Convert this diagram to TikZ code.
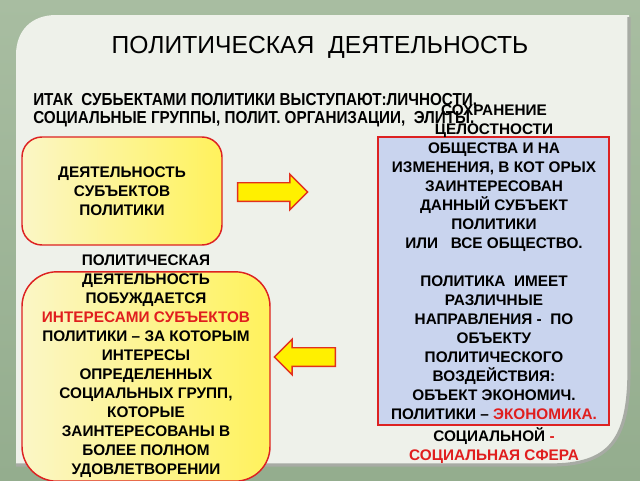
\documentclass[tikz,border=0pt]{standalone}
\usepackage{fontspec}
\setmainfont{Liberation Sans}
\newfontfamily\narrowbf{Liberation Sans Bold}[FakeStretch=0.88]
\usepackage{tikz}
\usetikzlibrary{shapes.arrows,positioning}

\definecolor{bggreen}{HTML}{A8BDA1}
\definecolor{bgdark}{HTML}{94AD8E}
\definecolor{panelfill}{HTML}{EEF1EA}
\definecolor{bevelgray}{HTML}{A7ABA4}
\definecolor{boxred}{HTML}{DD2222}
\definecolor{cream}{HTML}{FBF6C6}
\definecolor{lemon}{HTML}{FFF25C}
\definecolor{paleblue}{HTML}{C9D4EE}
\definecolor{arrowyellow}{HTML}{FFF000}
\definecolor{arrowred}{HTML}{E2301E}
\definecolor{textred}{HTML}{E01E1E}

\begin{document}
\begin{tikzpicture}[x=0.75pt,y=-0.75pt]
    \tikzstyle{yellowbox} = [rectangle, draw=boxred, line width=1.1pt, left color=cream, right color=lemon]
    \tikzstyle{bluebox} = [rectangle, draw=boxred, line width=1.1pt, fill=paleblue]
    \tikzstyle{bodytext} = [align=center, inner sep=0pt, font=\bfseries\fontsize{11.5pt}{14.25pt}\selectfont]
    \tikzstyle{blockarrow} = [single arrow, draw=arrowred, line width=1.1pt, fill=arrowyellow,
        inner xsep=0pt, inner ysep=6.4pt, single arrow head extend=6.4pt, text height=0pt, text depth=0pt]

    \useasboundingbox (0,0) rectangle (640,480);

    % Background and panel
    \shade[top color=bggreen, bottom color=bgdark] (0,0) rectangle (640,480);
    \fill[panelfill] (16,465) -- (16,55) .. controls (16,30) and (32,15) .. (56,15) -- (629,15)
        -- (629,370) .. controls (629,440) and (610,465) .. (550,465) -- cycle;
    \draw[bevelgray, line width=2.4pt] (629,17) -- (629,370) .. controls (629,440) and (610,465) .. (550,465) -- (16,465);

    % Headings
    \node[font=\fontsize{18.5pt}{22pt}\selectfont] (title) at (320,47) {ПОЛИТИЧЕСКАЯ\ \ ДЕЯТЕЛЬНОСТЬ};
    \node[anchor=north west, align=left, inner sep=0pt, font=\narrowbf\fontsize{13pt}{13.5pt}\selectfont] (intro) at (33,93.5)
        {ИТАК\ \ СУБЬЕКТАМИ ПОЛИТИКИ ВЫСТУПАЮТ:ЛИЧНОСТИ,\\ СОЦИАЛЬНЫЕ ГРУППЫ, ПОЛИТ. ОРГАНИЗАЦИИ,\ \ ЭЛИТЫ.};

    % Boxes
    \node[yellowbox, rounded corners=15pt, minimum width=150pt, minimum height=81pt, bodytext] (actbox) at (122,191)
        {ДЕЯТЕЛЬНОСТЬ\\ СУБЪЕКТОВ\\ ПОЛИТИКИ};
    \node[yellowbox, rounded corners=26pt, minimum width=186pt, minimum height=157pt] (intbox) at (146,376.5) {};
    \node[bluebox, minimum width=173.25pt, minimum height=216pt] (goalbox) at (493.5,281) {};

    % Texts over the boxes
    \node[bodytext, anchor=north] (inttext) at (146,254.5)
        {ПОЛИТИЧЕСКАЯ\\ ДЕЯТЕЛЬНОСТЬ\\ ПОБУЖДАЕТСЯ\\ \textcolor{textred}{ИНТЕРЕСАМИ СУБЪЕКТОВ}\\
         ПОЛИТИКИ – ЗА КОТОРЫМ\\ ИНТЕРЕСЫ\\ ОПРЕДЕЛЕННЫХ\\ СОЦИАЛЬНЫХ ГРУПП,\\ КОТОРЫЕ\\
         ЗАИНТЕРЕСОВАНЫ В\\ БОЛЕЕ ПОЛНОМ\\ УДОВЛЕТВОРЕНИИ};
    \node[bodytext, anchor=north] (goaltext) at (494,104.5)
        {СОХРАНЕНИЕ\\ ЦЕЛОСТНОСТИ\\ ОБЩЕСТВА И НА\\ ИЗМЕНЕНИЯ, В КОТ ОРЫХ\\ ЗАИНТЕРЕСОВАН\\
         ДАННЫЙ СУБЪЕКТ\\ ПОЛИТИКИ\\ ИЛИ\ \ \ ВСЕ ОБЩЕСТВО.\\[14.25pt]
         ПОЛИТИКА\ \ ИМЕЕТ\\ РАЗЛИЧНЫЕ\\ НАПРАВЛЕНИЯ -\ \ ПО\\ ОБЪЕКТУ\\ ПОЛИТИЧЕСКОГО\\
         ВОЗДЕЙСТВИЯ:\\ ОБЪЕКТ ЭКОНОМИЧ.\\ ПОЛИТИКИ – \textcolor{textred}{ЭКОНОМИКА.}\\[2pt]
         СОЦИАЛЬНОЙ \textcolor{textred}{-}\\ \textcolor{textred}{СОЦИАЛЬНАЯ СФЕРА}};

    % Arrows
    \node[blockarrow, minimum height=52.5pt] (toright) at (268,192) {};
    \node[blockarrow, minimum height=45.75pt, shape border rotate=180] (toleft) at (309.5,357) {};
\end{tikzpicture}
\end{document}
